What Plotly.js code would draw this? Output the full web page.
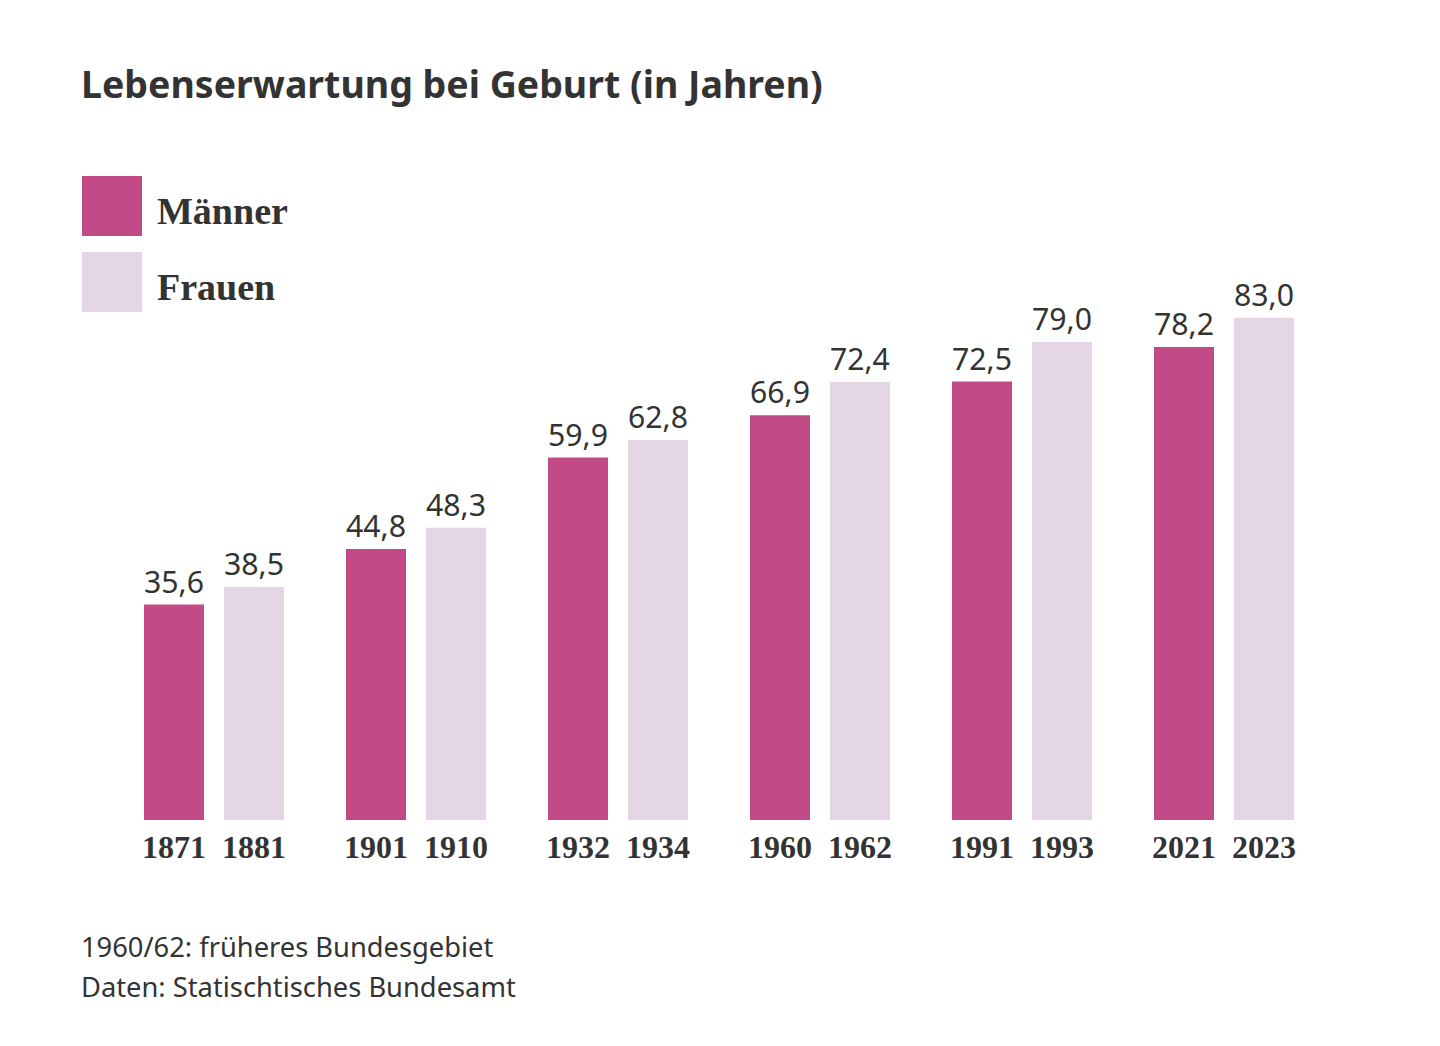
<!DOCTYPE html>
<html lang="de">
<head>
<meta charset="utf-8">
<script src="https://cdn.plot.ly/plotly-3.0.1.min.js"></script>
<style>
  html, body { margin: 0; padding: 0; background: #fff; }
  #chart { width: 1440px; height: 1046px; }
</style>
</head>
<body>
<div id="chart"></div>
<script>
// Lebenserwartung bei Geburt, Männer und Frauen
const yearsMen   = ['1871', '1901', '1932', '1960', '1991', '2021'];
const yearsWomen = ['1881', '1910', '1934', '1962', '1993', '2023'];
const valuesMen   = [35.6, 44.8, 59.9, 66.9, 72.5, 78.2];
const valuesWomen = [38.5, 48.3, 62.8, 72.4, 79.0, 83.0];
const seriesNames = ['Männer', 'Frauen'];
const seriesColors = ['#c14a87', '#e4d6e5'];
const footnotes = ['1960/62: früheres Bundesgebiet', 'Daten: Statischtisches Bundesamt'];

// one category per pair of survey years
const groups = yearsMen.map((y, i) => y + '/' + yearsWomen[i]);

const W = 1440, H = 1046;
const M = { l: 113, r: 115, t: 215, b: 226 };
const plotW = W - M.l - M.r, plotH = H - M.t - M.b;
const px = x => (x - M.l) / plotW;          // pixel → paper x
const py = y => (H - M.b - y) / plotH;      // pixel → paper y

const textColor = '#333333';
const sansFont = '"Noto Sans", "Open Sans", sans-serif';
const serifFont = '"Liberation Serif", "DejaVu Serif", serif';

const makeTrace = (name, values, color) => ({
  type: 'bar',
  name: name,
  x: groups,
  y: values,
  marker: { color: color, line: { width: 0 } },
  texttemplate: '%{y:.1f}',
  textposition: 'outside',
  textfont: { family: sansFont, size: 31, color: textColor },
  cliponaxis: false,
  hoverinfo: 'skip',
  showlegend: false
});

const data = [
  makeTrace(seriesNames[0], valuesMen, seriesColors[0]),
  makeTrace(seriesNames[1], valuesWomen, seriesColors[1])
];

const annotations = [];
// year labels under each bar
groups.forEach((g, i) => {
  [[yearsMen[i], -40], [yearsWomen[i], 40]].forEach(([label, shift]) => {
    annotations.push({
      x: g, xref: 'x', y: 0, yref: 'y',
      xshift: shift, yshift: -27,
      text: '<b>' + label + '</b>',
      showarrow: false, xanchor: 'center', yanchor: 'middle',
      font: { family: serifFont, size: 32, color: textColor }
    });
  });
});

// legend: coloured squares with series names
const shapes = [];
const legendTops = [176, 252];
seriesNames.forEach((name, i) => {
  const top = legendTops[i];
  shapes.push({
    type: 'rect', xref: 'paper', yref: 'paper', layer: 'above',
    x0: px(82), x1: px(142), y0: py(top + 60), y1: py(top),
    fillcolor: seriesColors[i], line: { width: 0 }
  });
  annotations.push({
    x: px(155), xref: 'paper', y: py(top + 35), yref: 'paper',
    text: '<b>' + name + '</b>', showarrow: false,
    xanchor: 'left', yanchor: 'middle',
    font: { family: serifFont, size: 38, color: textColor }
  });
});

// footnotes
footnotes.forEach((t, i) => {
  annotations.push({
    x: px(79), xref: 'paper', y: py(947 + i * 39), yref: 'paper',
    text: t, showarrow: false, xanchor: 'left', yanchor: 'middle',
    font: { family: sansFont, size: 27.3, color: textColor }
  });
});

const layout = {
  width: W, height: H,
  margin: M,
  paper_bgcolor: '#ffffff',
  plot_bgcolor: '#ffffff',
  separators: ',.',
  title: {
    text: '<b>Lebenserwartung bei Geburt (in Jahren)</b>',
    x: 81 / W, xanchor: 'left', xref: 'container',
    y: 1 - 85 / H, yanchor: 'middle', yref: 'container',
    font: { family: sansFont, size: 37.5, color: textColor }
  },
  barmode: 'group',
  bargap: 0.208,
  bargroupgap: 0.25,
  xaxis: {
    type: 'category', range: [-0.5, 5.5],
    showticklabels: false, showgrid: false, zeroline: false, showline: false, ticks: ''
  },
  yaxis: {
    range: [0, 100],
    showticklabels: false, showgrid: false, zeroline: false, showline: false, ticks: ''
  },
  shapes: shapes,
  annotations: annotations,
  showlegend: false
};

Plotly.newPlot('chart', data, layout, { displayModeBar: false, staticPlot: true });
</script>
</body>
</html>
